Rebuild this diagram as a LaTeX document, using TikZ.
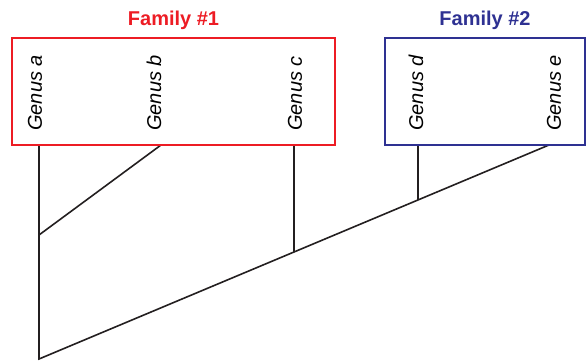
\documentclass[tikz,border=0pt]{standalone}
\usepackage{fontspec}
\setmainfont{Liberation Sans}
\usetikzlibrary{positioning}
\definecolor{famred}{RGB}{237,28,36}
\definecolor{famblue}{RGB}{46,49,146}
\definecolor{grenfarge}{RGB}{35,31,32}
\tikzset{
    %Define style for family boxes
    kasse/.style={
           rectangle,
           draw, line width=2pt,
           inner sep=0pt},
    %Define style for family titles
    tittel/.style={
           inner sep=0pt,
           font=\fontsize{20}{24}\selectfont\bfseries},
    %Define style for genus labels
    slekt/.style={
           rotate=90,
           anchor=west,
           inner sep=0pt,
           font=\fontsize{20}{24}\selectfont\itshape},
    % Define branch style
    gren/.style={
           line width=1.6pt,
           draw=grenfarge,
           line join=miter}
}
\begin{document}
\begin{tikzpicture}[x=1pt,y=-1pt,node distance=7pt]
\useasboundingbox (0,0) rectangle (588,363);

% tree
\coordinate (rot) at (39,359);
\coordinate (ab) at (39,235);
\coordinate (cj) at (294,252);
\coordinate (dj) at (418,200);
\coordinate (ta) at (39,145);
\coordinate (tb) at (161,145);
\coordinate (tc) at (294,145);
\coordinate (td) at (418,145);
\coordinate (te) at (549,145);

\draw[gren] (ta) -- (ab) -- (rot) -- (te);
\draw[gren] (tb) -- (ab);
\draw[gren] (tc) -- (cj);
\draw[gren] (td) -- (dj);

% families
\node[kasse, draw=famred, minimum width=323pt, minimum height=107pt](f1) at (173.5,91.5){};
\node[kasse, draw=famblue, minimum width=200pt, minimum height=107pt](f2) at (485,91.5){};
\node[tittel, text=famred, above=of f1](t1){Family \#1};
\node[tittel, text=famblue, above=of f2](t2){Family \#2};

\node[slekt](a) at (35,131){Genus a};
\node[slekt](b) at (154,131){Genus b};
\node[slekt](c) at (295,131){Genus c};
\node[slekt](d) at (416,131){Genus d};
\node[slekt](e) at (554,131){Genus e};

\end{tikzpicture}
\end{document}
